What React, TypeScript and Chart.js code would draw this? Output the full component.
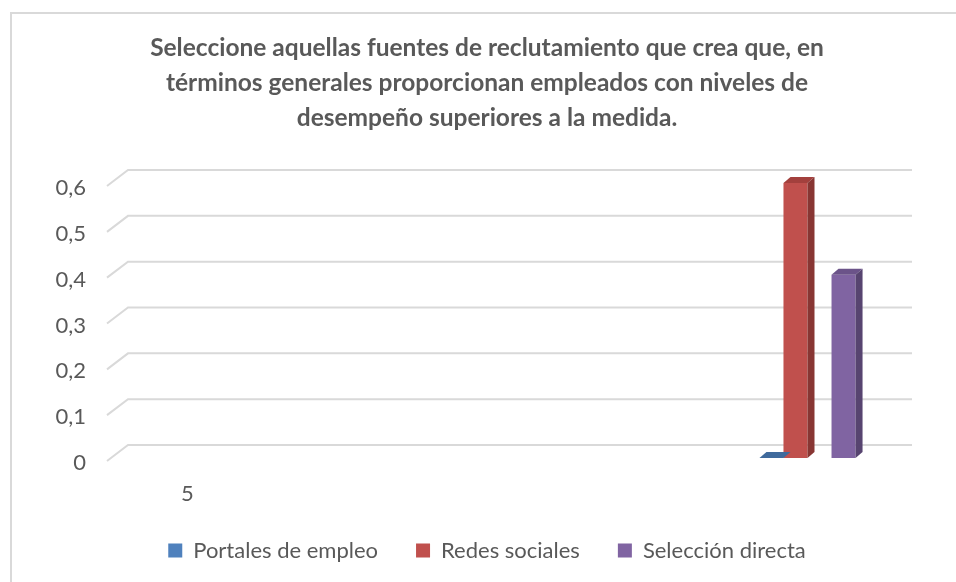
import React, { useEffect, useRef } from "react";
import { Chart, registerables } from "chart.js";

Chart.register(...registerables);

// ---- data ----
const categories = ["5", "", "", "", ""];
const seriesNames = ["Portales de empleo", "Redes sociales", "", "Selección directa"];
const portales = [null, null, null, null, 0];
const redes = [null, null, null, null, 0.6];
const emptySlot = [null, null, null, null, null];
const seleccion = [null, null, null, null, 0.4];
const titleLines = [
  "Seleccione aquellas fuentes de reclutamiento que crea que, en",
  "términos generales proporcionan empleados con niveles de",
  "desempeño superiores a la medida.",
];
const yMin = 0;
const yMax = 0.6;
const yStep = 0.1;

// ---- styles ----
const frontColors = ["#4f81bd", "#c0504d", "rgba(0,0,0,0)", "#8064a2"];
const topColors = ["#3f6a9c", "#a3403d", "rgba(0,0,0,0)", "#6b5389"];
const sideColors = ["#365c88", "#883633", "rgba(0,0,0,0)", "#574470"];
const TEXT = "#595959";
const GRID = "#d9d9d9";
const DX = 7;
const DY = 6;

const depthPlugin = {
  id: "depth3d",
  beforeDatasetsDraw(chart: any) {
    const { ctx, chartArea, scales } = chart;
    const y = scales.y;
    ctx.save();
    ctx.strokeStyle = GRID;
    ctx.lineWidth = 2;
    y.ticks.forEach((t: any) => {
      const yy = y.getPixelForValue(t.value);
      ctx.beginPath();
      ctx.moveTo(chartArea.left - 3, yy + 3);
      ctx.lineTo(chartArea.left + 18, yy - 13);
      ctx.lineTo(chartArea.right + 27, yy - 13);
      ctx.stroke();
    });
    ctx.restore();
  },
  afterDatasetsDraw(chart: any) {
    const { ctx } = chart;
    ctx.save();
    chart.data.datasets.forEach((ds: any, i: number) => {
      const meta = chart.getDatasetMeta(i);
      meta.data.forEach((bar: any, j: number) => {
        const v = ds.data[j];
        if (v == null) return;
        const { x, y, base, width } = bar.getProps(["x", "y", "base", "width"], true);
        const l = x - width / 2;
        const r = x + width / 2;
        ctx.fillStyle = topColors[i];
        ctx.beginPath();
        ctx.moveTo(l, y);
        ctx.lineTo(l + DX, y - DY);
        ctx.lineTo(r + DX, y - DY);
        ctx.lineTo(r, y);
        ctx.closePath();
        ctx.fill();
        ctx.fillStyle = sideColors[i];
        ctx.beginPath();
        ctx.moveTo(r, y);
        ctx.lineTo(r + DX, y - DY);
        ctx.lineTo(r + DX, base - DY);
        ctx.lineTo(r, base);
        ctx.closePath();
        ctx.fill();
      });
    });
    ctx.restore();
  },
};

export default function App() {
  const ref = useRef<HTMLCanvasElement | null>(null);

  useEffect(() => {
    if (!ref.current) return;
    document.body.style.overflow = "hidden";
    const seriesData = [portales, redes, emptySlot, seleccion];
    const chart = new Chart(ref.current, {
      type: "bar",
      data: {
        labels: categories,
        datasets: seriesData.map((d, i) => ({
          label: seriesNames[i],
          data: d as any,
          backgroundColor: frontColors[i],
          borderWidth: 0,
          categoryPercentage: 0.62,
          barPercentage: 1,
          yAxisID: "y",
        })),
      },
      plugins: [depthPlugin],
      options: {
        animation: false,
        responsive: false,
        maintainAspectRatio: false,
        layout: { padding: { top: 0, left: 18, right: 0, bottom: 10.5 } },
        plugins: {
          tooltip: { enabled: false },
          title: {
            display: true,
            text: titleLines,
            color: TEXT,
            font: { family: "Lato", size: 24.5, weight: "bold", lineHeight: 35 / 24.5 },
            padding: { top: 30.5, bottom: 47.5 },
          },
          legend: {
            position: "bottom",
            labels: {
              filter: (item: any) => item.text !== "",
              boxWidth: 14,
              boxHeight: 14,
              padding: 38,
              color: TEXT,
              font: { family: "Lato", size: 22 },
            },
          },
        },
        scales: {
          x: {
            grid: { display: false, drawTicks: false },
            border: { display: false },
            ticks: {
              color: TEXT,
              font: { family: "Lato", size: 22 },
              padding: 23,
              autoSkip: false,
              maxRotation: 0,
            },
            afterFit: (s: any) => {
              s.height = 43.5;
            },
          },
          y: {
            min: yMin,
            max: yMax,
            grid: { display: false, drawTicks: false },
            border: { display: false },
            ticks: {
              stepSize: yStep,
              color: TEXT,
              font: { family: "Lato", size: 22 },
              padding: 24,
              labelOffset: 5,
              callback: (v: any) => (Number(v) === 0 ? "0" : Number(v).toFixed(1).replace(".", ",")),
            },
            afterFit: (s: any) => {
              s.width = 92;
            },
          },
          yRight: {
            position: "right",
            display: true,
            grid: { display: false, drawTicks: false },
            border: { display: false },
            ticks: { display: false },
            afterFit: (s: any) => {
              s.width = 71;
            },
          },
        },
      },
    });
    return () => chart.destroy();
  }, []);

  return (
    <div style={{ position: "fixed", left: 0, top: 0, width: 956, height: 582, background: "#fff", overflow: "hidden" }}>
      <div
        style={{
          position: "absolute",
          left: 10,
          top: 12,
          width: 980,
          height: 620,
          borderLeft: "2px solid #d9d9d9",
          borderTop: "2px solid #d9d9d9",
        }}
      />
      <canvas ref={ref} width={956} height={582} style={{ position: "absolute", left: 0, top: 0 }} />
    </div>
  );
}
